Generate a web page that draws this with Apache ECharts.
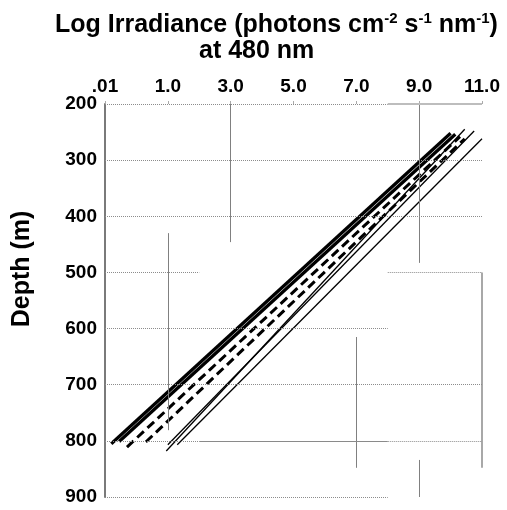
<!DOCTYPE html>
<html>
<head>
<meta charset="utf-8">
<script src="https://cdn.jsdelivr.net/npm/echarts@6/dist/echarts.min.js"></script>
<style>html,body{margin:0;padding:0;background:#fff}#c{width:507px;height:510px}</style>
</head>
<body>
<div id="c"></div>
<script>
// x tick values and labels (log irradiance)
var xTicks = [-1, 1, 3, 5, 7, 9, 11];
var xTickLabels = ['.01', '1.0', '3.0', '5.0', '7.0', '9.0', '11.0'];
// depth ticks
var depthTicks = [200, 300, 400, 500, 600, 700, 800, 900];

// profiles: [log irradiance, depth]
var thickA = [[-0.8, 805], [10.0, 252]];
var thickB = [[-0.55, 801], [10.15, 254]];
var dashedC = [[-0.3, 811], [10.3, 258]];
var dashedD = [[0.3, 802], [10.45, 262]];
var thinE = [[0.95, 818], [10.45, 245]];
var thinF = [[1.0, 807], [10.75, 248]];
var thinG = [[1.3, 807], [11.0, 262]];

// partial reference lines of the original figure (data coordinates)
var vLines = [[1, 430, 781], [3, 200, 446], [9, 200, 483], [7, 615, 848], [11, 500, 848], [9, 834, 900]];
var hDotted = [[200, -1, 8], [300, -1, 11], [400, -1, 11], [500, -1, 2], [500, 8, 11], [600, -1, 8], [700, -1, 11], [800, -1, 2], [800, 8, 11], [900, -1, 8]];
var hSolid = [[200, 8, 11, '#bdbdbd', 2], [800, 2, 8, '#8a8a8a', 1]];

var FONT = 'Liberation Sans, Arial, sans-serif';

var refData = [];
vLines.forEach(function (v) {
  refData.push([{ coord: [v[0], v[1]], lineStyle: { color: v[0] === 11 ? '#a8a8a8' : '#808080', width: v[0] === 11 ? 2 : 1, type: 'solid' } }, { coord: [v[0], v[2]] }]);
});
hDotted.forEach(function (h) {
  refData.push([{ coord: [h[1], h[0]], lineStyle: { color: '#8c8c8c', width: 1, type: [1, 1] } }, { coord: [h[2], h[0]] }]);
});
hSolid.forEach(function (h) {
  refData.push([{ coord: [h[1], h[0]], lineStyle: { color: h[3], width: h[4], type: 'solid' } }, { coord: [h[2], h[0]] }]);
});

function lineSeries(data, width, dash, z) {
  return {
    type: 'line', data: data, symbol: 'none', z: z || 3,
    lineStyle: { color: '#000', width: width, type: dash || 'solid' },
    animation: false
  };
}

var chart = echarts.init(document.getElementById('c'));
chart.setOption({
  backgroundColor: '#fff',
  animation: false,
  title: [
    {
      text: 'Log Irradiance (photons cm{sup|-2} s{sup|-1} nm{sup|-1})',
      left: 50, top: 6,
      textStyle: {
        fontFamily: FONT, fontWeight: 'bold', fontSize: 25, color: '#000', lineHeight: 28,
        rich: { sup: { fontFamily: FONT, fontWeight: 'bold', fontSize: 15, lineHeight: 15, verticalAlign: 'top', color: '#000' } }
      }
    },
    {
      text: 'at 480 nm', left: 194, top: 34,
      textStyle: { fontFamily: FONT, fontWeight: 'bold', fontSize: 25, color: '#000' }
    }
  ],
  grid: { left: 105, right: 25, top: 104, bottom: 13, containLabel: false },
  xAxis: {
    type: 'value', position: 'top', min: -1, max: 11, interval: 2,
    axisLine: { show: false },
    axisTick: { show: true, length: 3, lineStyle: { color: '#aaa' } },
    splitLine: { show: false },
    axisLabel: {
      margin: 8, fontFamily: FONT, fontWeight: 'bold', fontSize: 19, color: '#000',
      formatter: function (v) { var i = xTicks.indexOf(v); return i >= 0 ? xTickLabels[i] : ''; }
    }
  },
  yAxis: {
    type: 'value', inverse: true, min: depthTicks[0], max: depthTicks[depthTicks.length - 1], interval: 100,
    axisLine: { show: true, onZero: false, lineStyle: { color: '#7a7a7a', width: 2 } },
    axisTick: { show: false },
    splitLine: { show: false },
    axisLabel: { margin: 8, fontFamily: FONT, fontWeight: 'bold', fontSize: 19, color: '#000' }
  },
  graphic: [{
    type: 'text', x: 22, y: 269, rotation: Math.PI / 2,
    style: { text: 'Depth (m)', font: 'bold 25px ' + FONT, fill: '#000', textAlign: 'center', textVerticalAlign: 'middle' }
  }],
  series: [
    {
      type: 'line', data: [], z: 1, symbol: 'none', animation: false,
      markLine: { silent: true, symbol: ['none', 'none'], label: { show: false }, animation: false, data: refData }
    },
    lineSeries(thickA, 3.3),
    lineSeries(thickB, 3.3),
    lineSeries(dashedC, 3, [9, 5]),
    lineSeries(dashedD, 3, [9, 5]),
    lineSeries(thinE, 1.3),
    lineSeries(thinF, 1.3),
    lineSeries(thinG, 1.3)
  ]
});
</script>
</body>
</html>
